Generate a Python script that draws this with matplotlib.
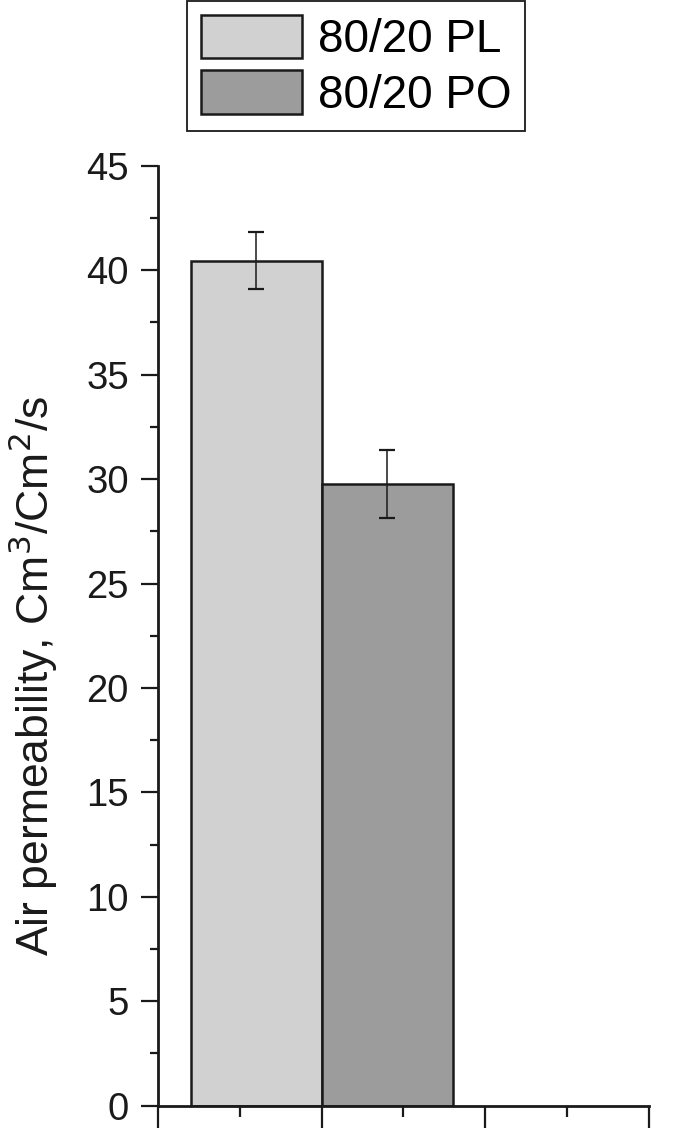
#!/usr/bin/env python3

import numpy as np
from matplotlib import pyplot as plt
from matplotlib.ticker import MultipleLocator

plt.rcParams['font.family'] = ['Liberation Sans', 'DejaVu Sans']

LABELS = ['80/20 PL', '80/20 PO']
VALUES = [40.45, 29.77]
ERRORS = [1.37, 1.64]
POSITIONS = [0.6, 1.4]
COLORS = ['#d1d1d1', '#9c9c9c']


def main():
  fig = plt.figure(figsize=(6.85, 11.28), dpi=100)
  ax = fig.add_axes([0.2307, 0.0198, 0.7167, 0.8332])

  handles = []
  for pos, val, err, col, lab in zip(POSITIONS, VALUES, ERRORS, COLORS, LABELS):
    b = ax.bar(pos, val, width=0.8, color=col, edgecolor='#1a1a1a', linewidth=1.8,
               label=lab, zorder=2)
    ax.errorbar(pos, val, yerr=err, fmt='none', ecolor='#1a1a1a', elinewidth=1.1,
                capsize=6, capthick=1.6, zorder=3)
    handles.append(b)

  ax.set_xlim(0, 3)
  ax.set_ylim(0, 45)
  ax.xaxis.set_major_locator(MultipleLocator(1))
  ax.xaxis.set_minor_locator(MultipleLocator(0.5))
  ax.yaxis.set_major_locator(MultipleLocator(5))
  ax.yaxis.set_minor_locator(MultipleLocator(2.5))
  ax.set_xticklabels([])

  for side in ['top', 'right']:
    ax.spines[side].set_visible(False)
  for side in ['left', 'bottom']:
    ax.spines[side].set_linewidth(2.0)
    ax.spines[side].set_color('#1a1a1a')

  ax.tick_params(axis='y', which='major', length=12, width=1.6, labelsize=27.5, pad=9, colors='#1a1a1a')
  ax.tick_params(axis='y', which='minor', length=6, width=1.6, colors='#1a1a1a')
  ax.tick_params(axis='x', which='major', length=18, width=1.6, colors='#1a1a1a')
  ax.tick_params(axis='x', which='minor', length=8, width=1.6, colors='#1a1a1a')

  ax.set_ylabel('Air permeability, Cm$^3$/Cm$^2$/s', fontsize=32, color='#1a1a1a')
  ax.yaxis.set_label_coords(-0.2, 0.457)

  leg = fig.legend(handles=handles, loc='upper left',
                   bbox_to_anchor=(0.273, 0.999), borderaxespad=0,
                   fontsize=33, frameon=True, fancybox=False, framealpha=1,
                   handlelength=2.2, handleheight=1.08, handletextpad=0.35,
                   labelspacing=0.18, borderpad=0.3)
  leg.get_frame().set_edgecolor('#1a1a1a')
  leg.get_frame().set_linewidth(1.3)

  fig.savefig('out.png', dpi=100)


if __name__ == '__main__':
  main()
